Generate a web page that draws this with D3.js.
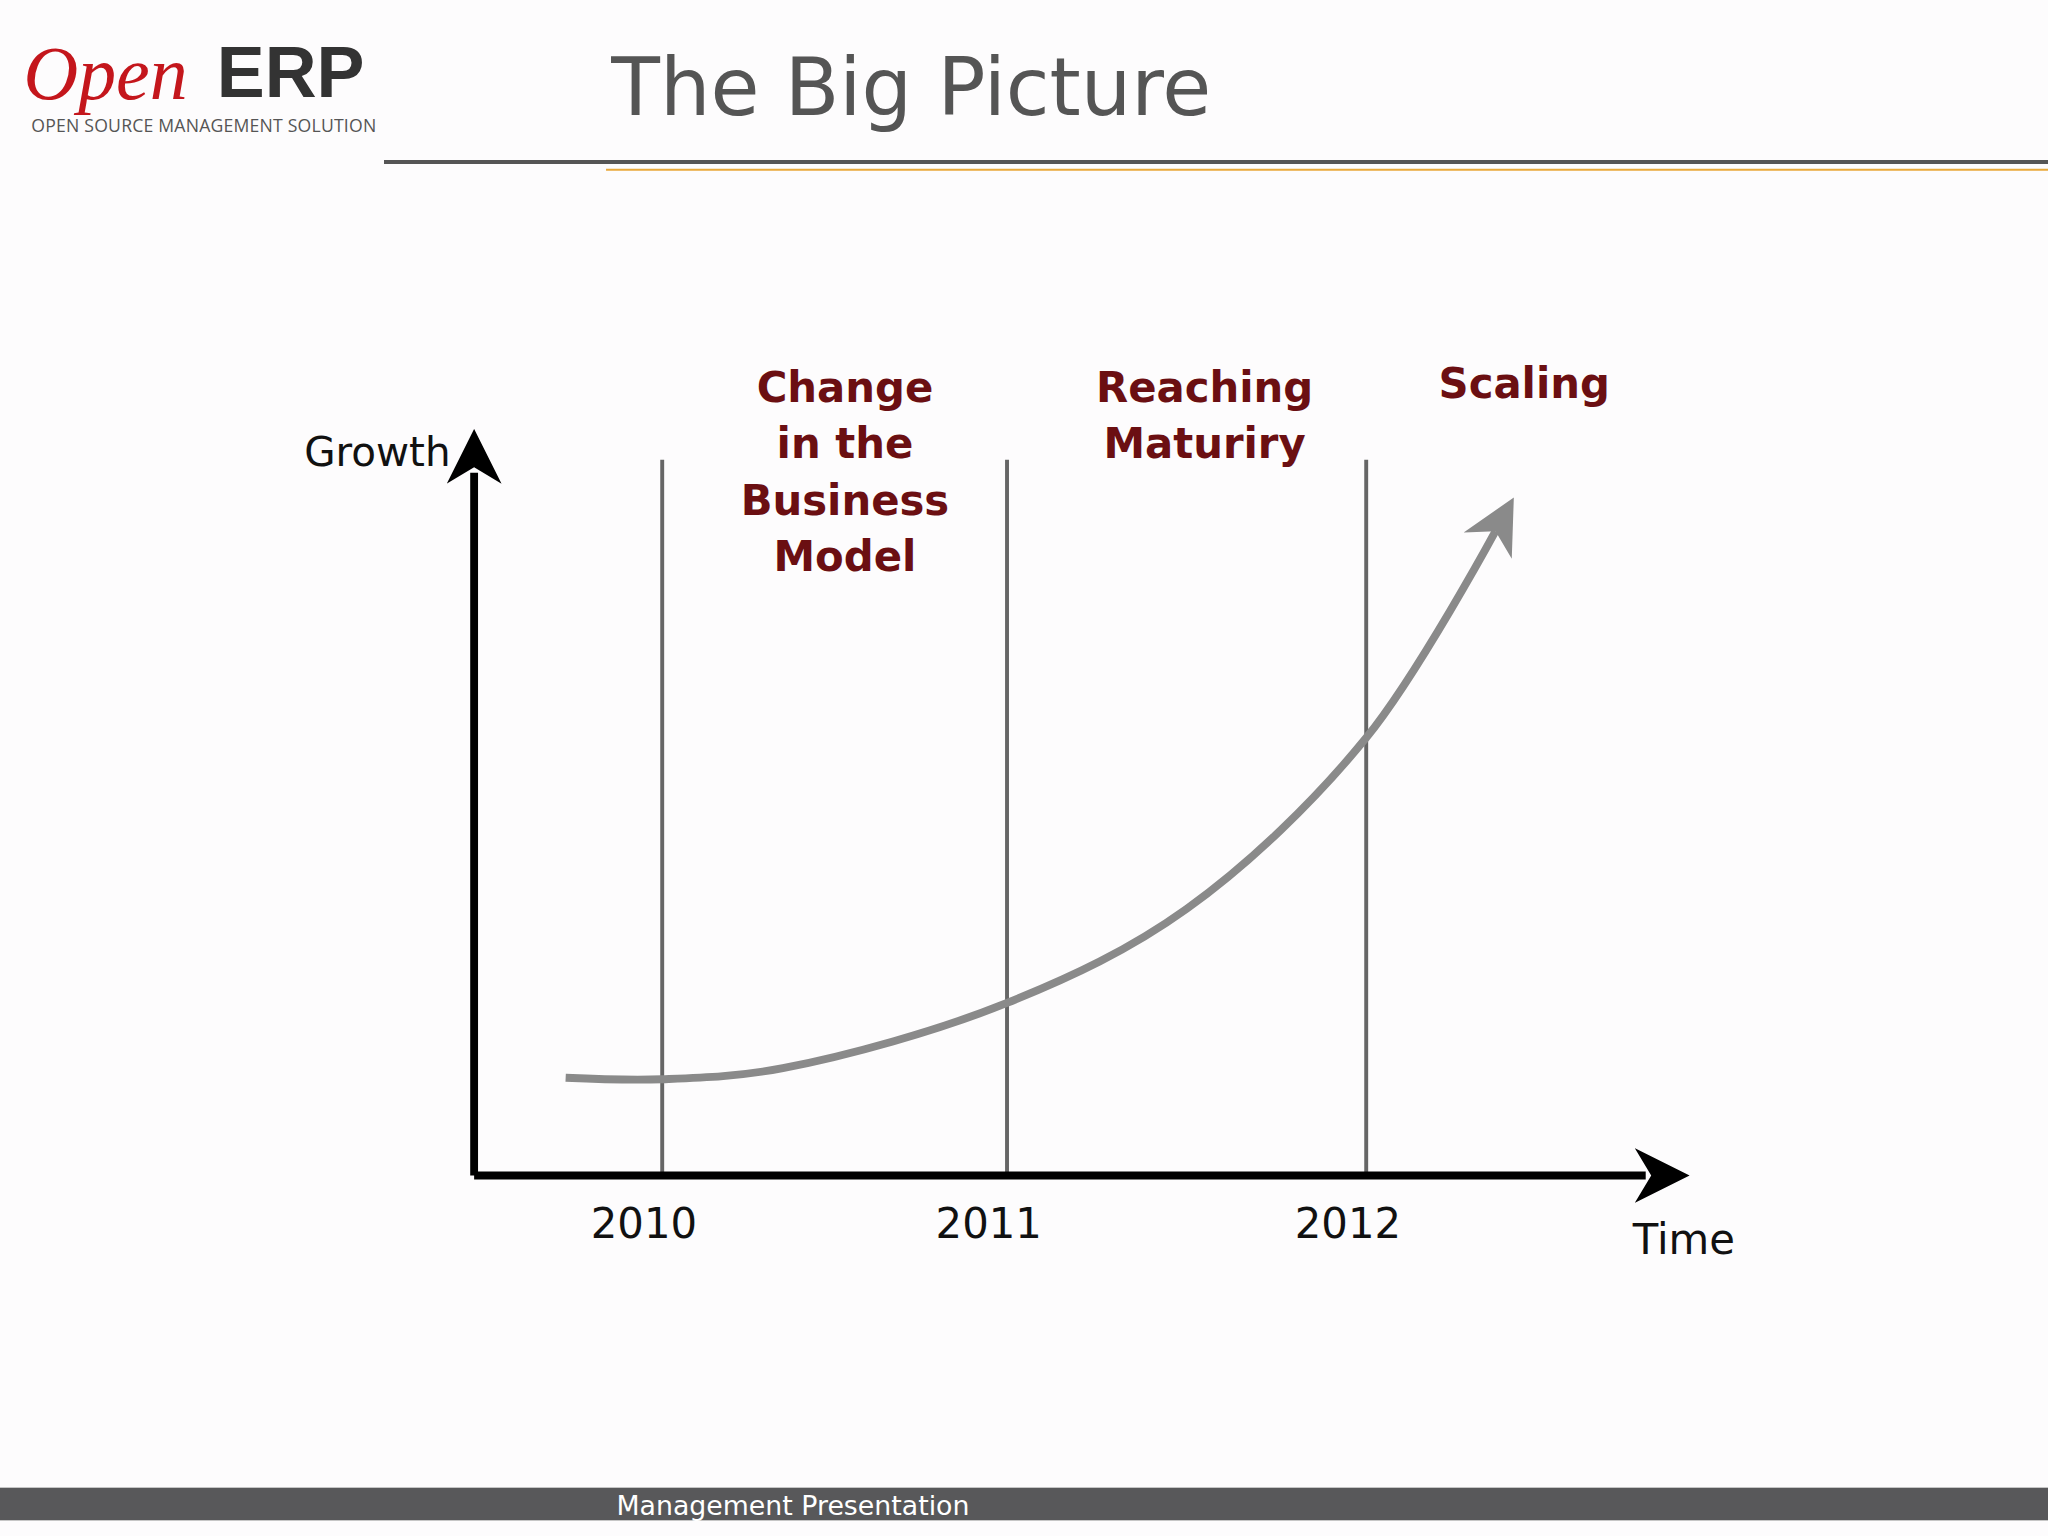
<!DOCTYPE html>
<html><head><meta charset="utf-8">
<script src="https://cdn.jsdelivr.net/npm/d3@7"></script>
<style>html,body{margin:0;padding:0;background:#fff;overflow:hidden}</style>
</head><body>
<script>
const years = [2010, 2011, 2012];
const yearLabels = ["2010", "2011", "2012"];
const phases = [
  {at: 2010.53, lines: ["Change", "in the", "Business", "Model"]},
  {at: 2011.55, lines: ["Reaching", "Maturiry"]},
  {at: 2012.44, lines: ["Scaling"]}
];
const curveYears = [2009.72, 2010, 2010.35, 2011, 2011.5, 2012, 2012.36];
const curveGrowth = [13.2, 13.0, 14.5, 23.3, 36.0, 59.1, 87.0];

const W = 1568, H = 1176;
const svg = d3.select("body").append("svg")
  .attr("width", 2048).attr("height", 1536)
  .attr("viewBox", `0 0 ${W} ${H}`);
svg.append("rect").attr("width", W).attr("height", H).attr("fill", "#fdfcfd");

const x = d3.scaleLinear().domain([2010, 2011, 2012]).range([507, 771, 1046]);
const y = d3.scaleLinear().domain([0, 100]).range([900, 333]);

// header
const logo = svg.append("g");
logo.append("text").attr("x", 18).attr("y", 76).attr("font-family", "Liberation Serif")
  .attr("font-style", "italic").attr("font-size", 58).attr("fill", "#c4161c").text("Open");
logo.append("text").attr("x", 166).attr("y", 74).attr("font-family", "Liberation Sans")
  .attr("font-weight", "bold").attr("font-size", 55).attr("fill", "#333").text("ERP");
logo.append("text").attr("x", 24).attr("y", 101).attr("font-family", "Open Sans")
  .attr("font-size", 13.5).attr("fill", "#555").attr("textLength", 264).text("OPEN SOURCE MANAGEMENT SOLUTION");
svg.append("text").attr("x", 468).attr("y", 88).attr("font-family", "DejaVu Sans")
  .attr("font-size", 61).attr("fill", "#555").text("The Big Picture");
svg.append("line").attr("x1", 294).attr("x2", W).attr("y1", 124).attr("y2", 124)
  .attr("stroke", "#555").attr("stroke-width", 3);
svg.append("line").attr("x1", 464).attr("x2", W).attr("y1", 130).attr("y2", 130)
  .attr("stroke", "#e8a83a").attr("stroke-width", 1.5);

// footer
svg.append("rect").attr("x", 0).attr("y", 1139).attr("width", W).attr("height", 25).attr("fill", "#58585a");
svg.append("text").attr("x", 472).attr("y", 1160).attr("font-family", "DejaVu Sans")
  .attr("font-size", 20.5).attr("fill", "#fff").text("Management Presentation");

const defs = svg.append("defs");
defs.append("marker").attr("id", "ah").attr("viewBox", "0 0 10 10").attr("refX", 2).attr("refY", 5)
  .attr("markerWidth", 7).attr("markerHeight", 7).attr("orient", "auto").attr("markerUnits", "strokeWidth")
  .append("path").attr("d", "M0,0 L10,5 L0,10 L3,5 Z").attr("fill", "#000");
defs.append("marker").attr("id", "ch").attr("viewBox", "0 0 10 10").attr("refX", 3).attr("refY", 5)
  .attr("markerWidth", 7).attr("markerHeight", 7).attr("orient", "auto").attr("markerUnits", "strokeWidth")
  .append("path").attr("d", "M0,0 L10,5 L0,10 L3,5 Z").attr("fill", "#8a8a8a");

svg.selectAll(".vl").data(years).join("line")
  .attr("x1", d => x(d)).attr("x2", d => x(d)).attr("y1", 352).attr("y2", y(0))
  .attr("stroke", "#666").attr("stroke-width", 3);

svg.append("line").attr("x1", 363).attr("x2", 363).attr("y1", y(0)).attr("y2", 362)
  .attr("stroke", "#000").attr("stroke-width", 6).attr("marker-end", "url(#ah)");
svg.append("line").attr("x1", 363).attr("x2", 1260).attr("y1", y(0)).attr("y2", y(0))
  .attr("stroke", "#000").attr("stroke-width", 6).attr("marker-end", "url(#ah)");

svg.selectAll(".yl").data(years).join("text")
  .attr("x", d => x(d) - 14).attr("y", 948).attr("text-anchor", "middle")
  .attr("font-family", "DejaVu Sans").attr("font-size", 32).attr("fill", "#111")
  .text((d, i) => yearLabels[i]);
svg.append("text").attr("x", 345).attr("y", 357).attr("text-anchor", "end")
  .attr("font-family", "DejaVu Sans").attr("font-size", 31).attr("fill", "#111").text("Growth");
svg.append("text").attr("x", 1250).attr("y", 960)
  .attr("font-family", "DejaVu Sans").attr("font-size", 32).attr("fill", "#111").text("Time");

phases.forEach(p => {
  const t = svg.append("text").attr("x", x(p.at)).attr("y", p.lines.length === 1 ? 305 : 308).attr("text-anchor", "middle")
    .attr("font-family", "DejaVu Sans").attr("font-weight", "bold").attr("font-size", 32)
    .attr("fill", "#6b0f12");
  p.lines.forEach((l, i) => t.append("tspan").attr("x", x(p.at)).attr("dy", i ? 43 : 0).text(l));
});
const pts = curveYears.map((d, i) => [x(d), y(curveGrowth[i])]);
svg.append("path").attr("d", d3.line().curve(d3.curveCatmullRom.alpha(0.5))(pts))
  .attr("fill", "none").attr("stroke", "#8a8a8a").attr("stroke-width", 6)
  .attr("marker-end", "url(#ch)");
</script>
</body></html>
